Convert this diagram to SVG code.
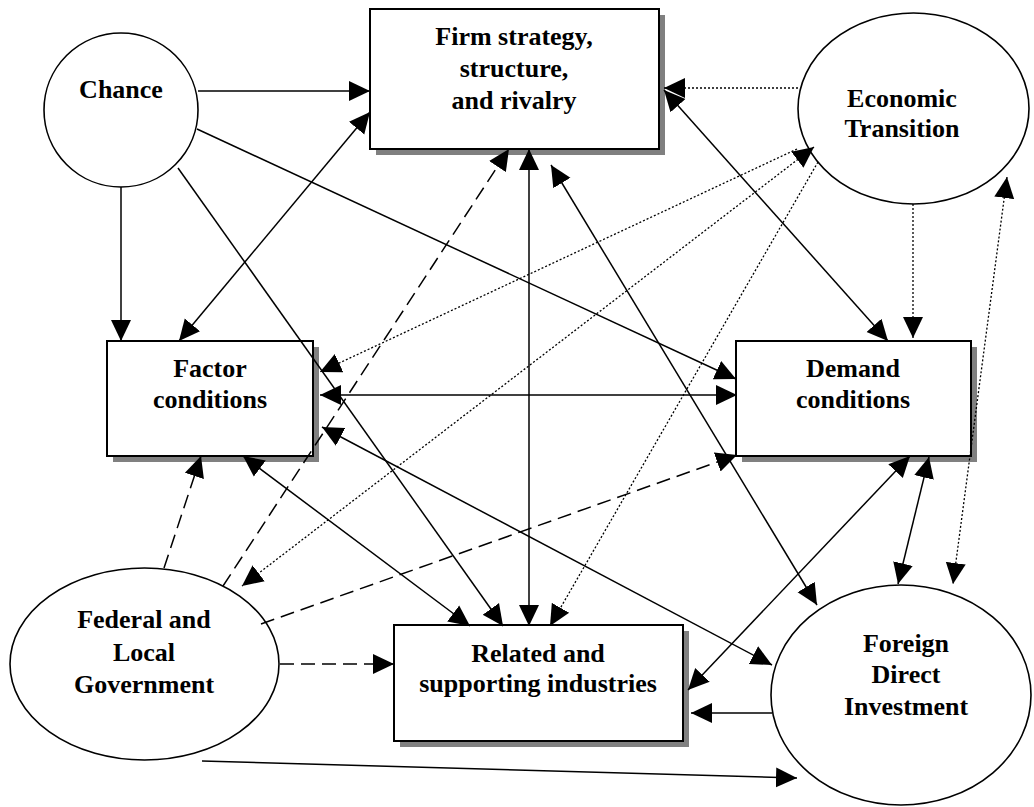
<svg xmlns="http://www.w3.org/2000/svg" width="1034" height="807" viewBox="0 0 1034 807">
<style>
.box{fill:#fff;stroke:#000;stroke-width:2}
.sh{fill:#808080;stroke:none}
.el{fill:#fff;stroke:#000;stroke-width:1.6}
.t{font-family:"Liberation Serif","Times New Roman",serif;font-weight:bold;font-size:26px;text-anchor:middle;fill:#000}
.c{stroke:#000;stroke-width:1.5;fill:none}
.dash{stroke-dasharray:14,7}
.dot{stroke-width:1.3;stroke-dasharray:2,2}
.e{marker-end:url(#ah)}
.b{marker-start:url(#ah);marker-end:url(#ah)}
</style>
<defs>
<marker id="ah" markerUnits="userSpaceOnUse" markerWidth="22" markerHeight="22" viewBox="0 0 22 22" refX="21" refY="11" orient="auto-start-reverse">
<path d="M0,1 L21,11 L0,21 z" fill="#000"/>
</marker>
</defs>
<rect width="1034" height="807" fill="#fff"/>

<g id="firm">
<rect class="sh" x="376" y="15" width="289" height="140"/>
<rect class="box" x="370" y="9" width="289" height="140"/>
<text class="t" x="514" y="45">Firm strategy,</text>
<text class="t" x="514" y="77">structure,</text>
<text class="t" x="514" y="109">and rivalry</text>
</g>
<g id="factor">
<rect class="sh" x="113" y="347" width="206" height="115"/>
<rect class="box" x="107" y="341" width="206" height="115"/>
<text class="t" x="210" y="377">Factor</text>
<text class="t" x="210" y="408">conditions</text>
</g>
<g id="demand">
<rect class="sh" x="742" y="347" width="235" height="115"/>
<rect class="box" x="736" y="341" width="235" height="115"/>
<text class="t" x="853" y="377">Demand</text>
<text class="t" x="853" y="408">conditions</text>
</g>
<g id="related">
<rect class="sh" x="400" y="631" width="289" height="116"/>
<rect class="box" x="394" y="625" width="289" height="116"/>
<text class="t" x="538" y="662">Related and</text>
<text class="t" x="538" y="692">supporting industries</text>
</g>
<g id="chance">
<circle class="el" cx="121" cy="110" r="77"/>
<text class="t" x="121" y="98">Chance</text>
</g>
<g id="economic">
<ellipse class="el" cx="913.5" cy="108.5" rx="115.5" ry="95.5"/>
<text class="t" x="902" y="107">Economic</text>
<text class="t" x="902" y="137">Transition</text>
</g>
<g id="federal">
<ellipse class="el" cx="144.5" cy="664" rx="134.5" ry="96"/>
<text class="t" x="144" y="628">Federal and</text>
<text class="t" x="144" y="661">Local</text>
<text class="t" x="144" y="693">Government</text>
</g>
<g id="fdi">
<ellipse class="el" cx="901" cy="695" rx="130" ry="110"/>
<text class="t" x="906" y="652">Foreign</text>
<text class="t" x="906" y="683">Direct</text>
<text class="t" x="906" y="715">Investment</text>
</g>

<g id="connectors">
<line class="c e" x1="198" y1="91" x2="370" y2="91"/>
<line class="c b" x1="179" y1="341" x2="370" y2="112"/>
<line class="c e" x1="121" y1="187" x2="121" y2="341"/>
<line class="c e" x1="197" y1="129" x2="736" y2="379"/>
<line class="c e" x1="178" y1="168" x2="503" y2="626"/>
<line class="c b" x1="243" y1="456" x2="470" y2="626"/>
<line class="c b" x1="529" y1="149" x2="529" y2="626"/>
<line class="c dash e" x1="223" y1="586" x2="509" y2="149"/>
<line class="c dash e" x1="164" y1="568" x2="201" y2="456"/>
<line class="c dash e" x1="261" y1="624" x2="737" y2="455"/>
<line class="c dash e" x1="280" y1="664" x2="394" y2="664"/>
<line class="c e" x1="202" y1="761" x2="797" y2="778"/>
<line class="c dot e" x1="798" y1="88" x2="664" y2="88"/>
<line class="c b" x1="664" y1="90" x2="888" y2="341"/>
<line class="c dot e" x1="913" y1="204" x2="913" y2="338"/>
<line class="c dot b" x1="1007" y1="177" x2="953" y2="584"/>
<line class="c b" x1="929" y1="457" x2="898" y2="584"/>
<line class="c b" x1="551" y1="165" x2="817" y2="605"/>
<line class="c b" x1="320" y1="395" x2="737" y2="395"/>
<line class="c dot e" x1="797" y1="149" x2="320" y2="372"/>
<line class="c dot b" x1="814" y1="147" x2="242" y2="586"/>
<line class="c dot e" x1="818" y1="162" x2="550" y2="626"/>
<line class="c e" x1="772" y1="713" x2="691" y2="713"/>
<line class="c b" x1="910" y1="456" x2="688" y2="690"/>
<line class="c b" x1="322" y1="427" x2="772" y2="665"/>
</g>
</svg>
